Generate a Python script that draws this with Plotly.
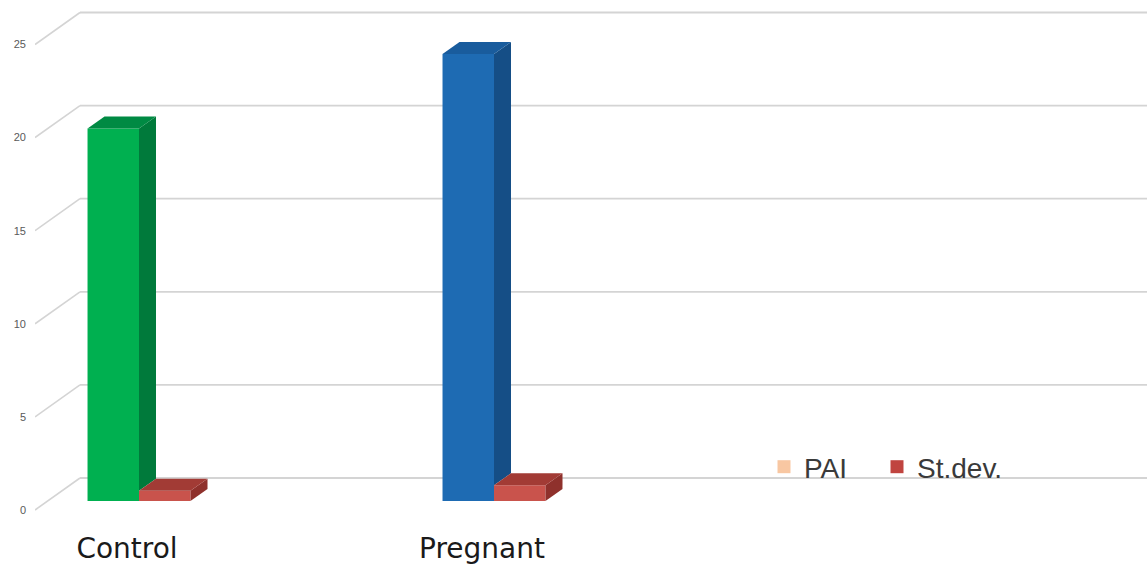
import plotly.graph_objects as go

# ---- data ----
categories = ["Control", "Pregnant"]
pai_values = [20, 24]
stdev_values = [0.55, 0.85]
y_ticks = [0, 5, 10, 15, 20, 25]

# ---- colours (front / side / top faces) ----
pai_front = ["#00B050", "#1E6BB3"]
pai_side = ["#007A3B", "#154E86"]
pai_top = ["#008A43", "#195C9D"]
sd_front = "#C9534C"
sd_side = "#8F312C"
sd_top = "#A23B35"
legend_pai = "#F8C7A2"
legend_sd = "#C0443F"
grid_col = "#D4D4D4"

# ---- layout geometry ----
W, H = 1147, 568
ML, MB = 35, 40
plot_w, plot_h = W - ML, H - MB
PX_CAT = 355.0          # pixels per category step
PX_UNIT = 18.62         # pixels per value unit
X0_PX = 104.0           # first category centre from plot left
BASE_PX = 27.0          # value 0 above plot bottom

x_range = [-X0_PX / PX_CAT, (plot_w - X0_PX) / PX_CAT]
y_range = [-BASE_PX / PX_UNIT, (plot_h - BASE_PX) / PX_UNIT]

BAR_W = 0.145
DX = 17 / PX_CAT        # oblique depth, x
DY = 12 / PX_UNIT       # oblique depth, y
FRONT = -9 / PX_UNIT    # floor front edge offset
BACK = 23 / PX_UNIT     # back wall offset
WALL_X = -59 / PX_CAT   # back wall left edge

fig = go.Figure()

xs = list(range(len(categories)))

# front faces
fig.add_trace(go.Bar(x=xs, y=pai_values, width=BAR_W, offset=-BAR_W,
                     marker=dict(color=pai_front, line=dict(width=0)),
                     showlegend=False, hoverinfo="skip"))
fig.add_trace(go.Bar(x=xs, y=stdev_values, width=BAR_W, offset=0,
                     marker=dict(color=sd_front, line=dict(width=0)),
                     showlegend=False, hoverinfo="skip"))


def face(px, py, col):
    fig.add_trace(go.Scatter(x=px + [px[0]], y=py + [py[0]], mode="lines",
                             fill="toself", fillcolor=col,
                             line=dict(width=0, color=col),
                             showlegend=False, hoverinfo="skip"))


for i, (h, s) in enumerate(zip(pai_values, stdev_values)):
    x0, x1 = i - BAR_W, i
    # side of the main bar, visible above the adjacent st.dev. block
    face([x1, x1 + DX, x1 + DX, x1], [s, s + DY, h + DY, h], pai_side[i])
    face([x0, x0 + DX, x1 + DX, x1], [h, h + DY, h + DY, h], pai_top[i])
    # st.dev. block
    a0, a1 = i, i + BAR_W
    face([a1, a1 + DX, a1 + DX, a1], [0, DY, s + DY, s], sd_side)
    face([a0, a0 + DX, a1 + DX, a1], [s, s + DY, s + DY, s], sd_top)

# legend entries (each in its own legend box)
fig.add_trace(go.Scatter(x=[None], y=[None], mode="markers", name="PAI",
                         legend="legend",
                         marker=dict(symbol="square", size=13, color=legend_pai)))
fig.add_trace(go.Scatter(x=[None], y=[None], mode="markers", name="St.dev.",
                         legend="legend2",
                         marker=dict(symbol="square", size=13, color=legend_sd)))

# back wall grid lines and floor diagonals
shapes = []
for v in y_ticks:
    shapes.append(dict(type="line", xref="x", yref="y", layer="below",
                       x0=WALL_X, x1=x_range[1], y0=v + BACK, y1=v + BACK,
                       line=dict(color=grid_col, width=1.8)))
    shapes.append(dict(type="line", xref="x", yref="y", layer="below",
                       x0=x_range[0], x1=WALL_X, y0=v + FRONT, y1=v + BACK,
                       line=dict(color=grid_col, width=1.6)))

legend_style = dict(orientation="h", xanchor="left", yanchor="middle",
                    y=(plot_h - 467) / plot_h,
                    font=dict(size=28, color="#3A3A3A",
                              family="Liberation Sans, Arial"),
                    bgcolor="rgba(0,0,0,0)", itemwidth=30)

fig.update_layout(
    width=W, height=H,
    margin=dict(l=ML, r=0, t=0, b=MB),
    paper_bgcolor="white", plot_bgcolor="white",
    barmode="overlay",
    shapes=shapes,
    font=dict(family="Liberation Sans, Arial, sans-serif"),
    xaxis=dict(range=x_range, tickvals=xs, ticktext=categories,
               showgrid=False, zeroline=False, showline=False, ticks="",
               ticklabelshift=-12, ticklabelstandoff=1,
               tickfont=dict(size=28, color="#1A1A1A",
                             family="DejaVu Sans, Liberation Sans, Arial")),
    yaxis=dict(range=y_range, tickvals=y_ticks,
               showgrid=False, zeroline=False, showline=False, ticks="",
               ticklabelshift=9, ticklabelstandoff=8,
               tickfont=dict(size=11, color="#5A5A5A")),
    legend=dict(legend_style, x=(764 - ML) / plot_w),
    legend2=dict(legend_style, x=(877 - ML) / plot_w),
)

fig.write_html("out.html")
